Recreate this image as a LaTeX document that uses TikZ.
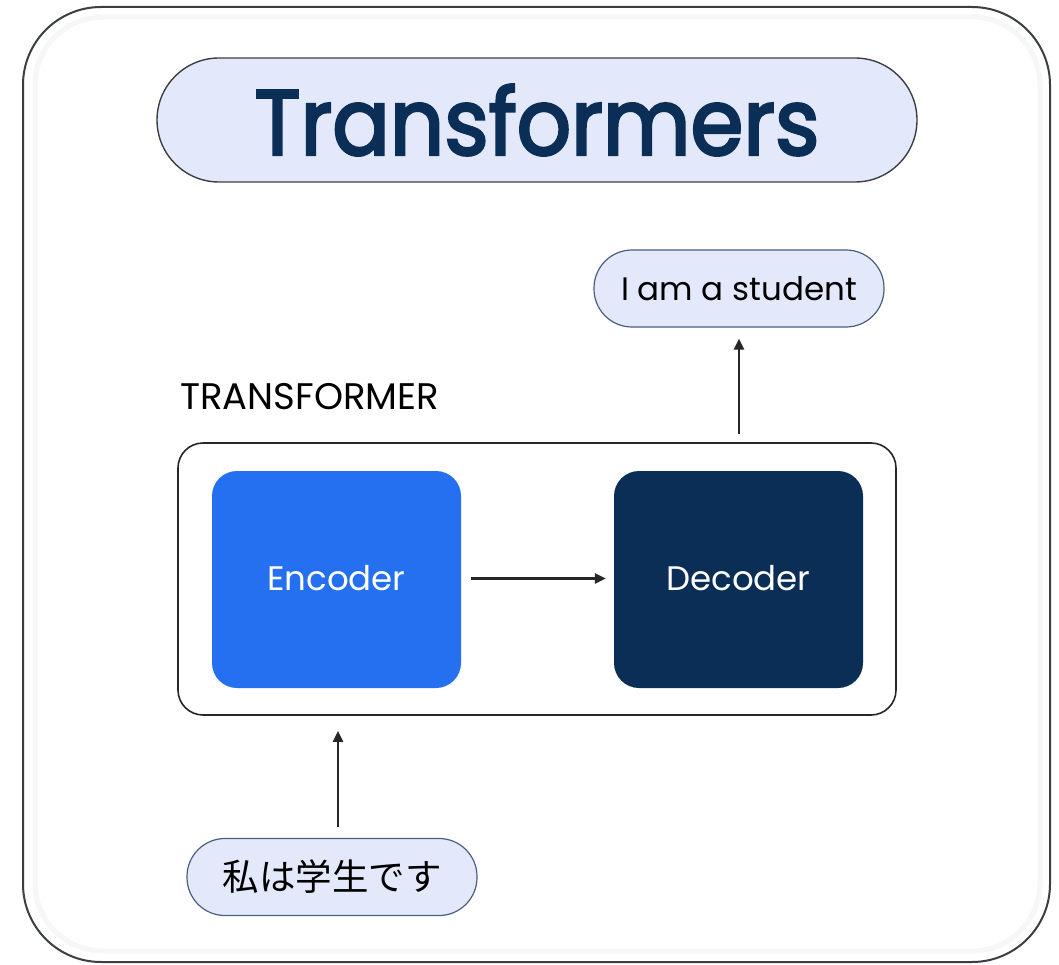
\documentclass[tikz,border=0pt]{standalone}
\usepackage{fontspec}
\setmainfont{Poppins}
\newfontfamily\titlefont[FakeBold=3]{Poppins}
\newfontfamily\cjkjp{Noto Sans CJK JP}
\usetikzlibrary{arrows.meta,calc}
\definecolor{pillfill}{HTML}{E3E9FB}
\definecolor{pilledge}{HTML}{4A5E7E}
\definecolor{navy}{HTML}{0B2E57}
\definecolor{encblue}{HTML}{2470F0}
\definecolor{framegray}{HTML}{3A3F44}
\tikzset{
  pill/.style={draw=pilledge, line width=1.2pt, fill=pillfill, rounded corners=38pt, minimum height=77pt, minimum width=290pt, inner sep=0pt, text=black},
  block/.style={rounded corners=25pt, minimum width=249pt, minimum height=217pt, inner sep=0pt, text=white, font=\fontsize{34}{40}\selectfont},
  conn/.style={-{Triangle[length=11pt,width=10pt]}, line width=2.4pt, draw=black!85},
}
\begin{document}
\begin{tikzpicture}[x=1pt,y=-1pt]
\useasboundingbox (0,0) rectangle (1059,965);
% outer frame
\draw[line width=2pt, draw=framegray, fill=white, rounded corners=78pt] (23,7) rectangle (1050,962);
\draw[line width=5pt, draw=black!3, rounded corners=68pt] (35,17) rectangle (1040,951);
% title
\node[draw=framegray, line width=1.4pt, fill=pillfill, rounded corners=62pt, minimum width=760pt, minimum height=124pt, inner sep=0pt, text=navy, font=\fontsize{92}{100}\titlefont] (title) at (537,120) {\scalebox{0.925}[1]{Transformers}};
% transformer container
\node[draw=black!85, line width=1.6pt, fill=white, rounded corners=25pt, minimum width=718pt, minimum height=272pt, inner sep=0pt] (tbox) at (537,579) {};
\node[anchor=west, font=\fontsize{37}{42}\selectfont, text=black, inner sep=0pt] (tlabel) at (180,397) {TRANSFORMER};
\node[block, fill=encblue] (enc) at (336.5,579.5) {\raisebox{3pt}{Encoder}};
\node[block, fill=navy] (dec) at (738.5,579.5) {\raisebox{3pt}{Decoder}};
\node[pill, font=\fontsize{32.5}{38}\selectfont] (out) at (739,288.5) {I am a student};
\node[pill, font=\fontsize{36.5}{42}\cjkjp] (in) at (332,877) {私は学生です};
\coordinate (a1s) at ($(enc.east)+(10,-1)$);
\coordinate (a1e) at ($(dec.west)+(-8,-1)$);
\coordinate (a2s) at ($(tbox.north -| out.south)+(0,-8)$);
\coordinate (a2e) at ($(out.south)+(0,11)$);
\coordinate (a3s) at ($(in.north)+(6,-11)$);
\coordinate (a3e) at ($(tbox.south -| a3s)+(0,15)$);
\draw[conn] (a1s) -- (a1e);
\draw[conn] (a2s) -- (a2e);
\draw[conn] (a3s) -- (a3e);
\end{tikzpicture}
\end{document}
